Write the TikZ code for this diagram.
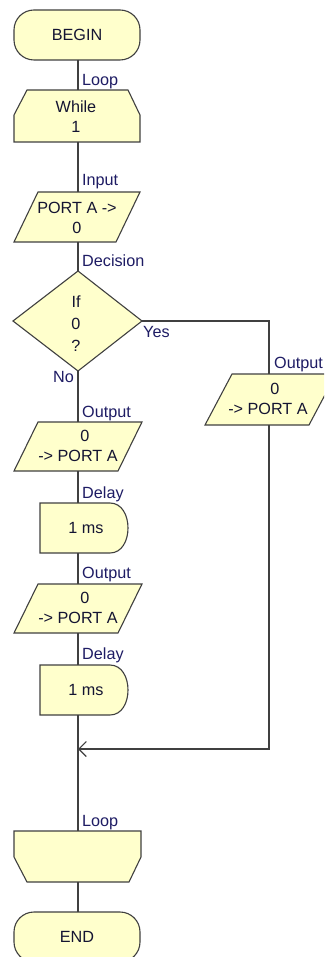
\documentclass[tikz,border=0pt]{standalone}
\usepackage{fontspec}
\setmainfont{Liberation Sans}
\usetikzlibrary{arrows.meta}
\definecolor{boxfill}{HTML}{FFFFCC}
\definecolor{edge}{HTML}{404040}
\definecolor{ink}{HTML}{141432}
\definecolor{tag}{HTML}{1E1C64}
\tikzset{
  shapebox/.style={draw=edge, fill=boxfill, line width=1.1pt, line join=miter},
  wire/.style={draw=edge, line width=1.1pt},
  txt/.style={text=ink, font=\fontsize{16.2}{20}\selectfont, align=center, inner sep=0pt},
  lbl/.style={text=tag, font=\fontsize{16.2}{20}\selectfont, inner sep=0pt},
  joinarrow/.style={-{Straight Barb[length=7.5pt,width=15pt,line width=1.1pt]}}
}
\begin{document}
\begin{tikzpicture}[x=1pt,y=-1pt]
\useasboundingbox (0,0) rectangle (324,957);
\clip (0,0) rectangle (324,957);
\fill[white] (0,0) rectangle (324,957);

% ---- shapes ----
% BEGIN terminal
\draw[shapebox, rounded corners=20pt] (14,10) rectangle (140,60);
\node[txt] (begin) at (77,35) {BEGIN};
\coordinate (begin-s) at (78,60);

% Loop start (While 1)
\draw[shapebox] (27,90) -- (128,90) -- (140,115) -- (140,142) -- (14,142) -- (14,115) -- cycle;
\node[txt] (while) at (76,117) {While\\1};
\coordinate (while-n) at (78,90);
\coordinate (while-s) at (78,142);

% Input
\draw[shapebox] (38,192) -- (140,192) -- (116,242) -- (14,242) -- cycle;
\node[txt] (input) at (77,218) {PORT A ->\\0};
\coordinate (input-n) at (78,192);
\coordinate (input-s) at (78,242);

% Decision
\draw[shapebox] (78,271) -- (142,321) -- (78,371) -- (13,321) -- cycle;
\node[txt] (decision) at (76,324) {If\\[2pt]0\\[2pt]?};
\coordinate (dec-n) at (78,271);
\coordinate (dec-e) at (142,321);
\coordinate (dec-s) at (78,371);

% Output on the Yes branch
\draw[shapebox] (232,374) -- (336,374) -- (309,425) -- (205,425) -- cycle;
\node[txt] (outyes) at (268,399) {\hspace*{14pt}0\\-> PORT A};
\coordinate (outyes-n) at (269,374);
\coordinate (outyes-s) at (269,425);

% First output on the No branch
\draw[shapebox] (38,422) -- (142,422) -- (118,471) -- (14,471) -- cycle;
\node[txt] (outa) at (78,446) {\hspace*{14pt}0\\-> PORT A};
\coordinate (outa-n) at (78,422);
\coordinate (outa-s) at (78,471);

% First delay
\draw[shapebox] (40,503) -- (110,503) .. controls (134,503) and (134,553) .. (110,553) -- (40,553) -- cycle;
\node[txt] (delaya) at (86,528) {1 ms};
\coordinate (delaya-n) at (78,503);
\coordinate (delaya-s) at (78,553);

% Second output
\draw[shapebox] (38,584) -- (142,584) -- (118,633) -- (14,633) -- cycle;
\node[txt] (outb) at (78,608) {\hspace*{14pt}0\\-> PORT A};
\coordinate (outb-n) at (78,584);
\coordinate (outb-s) at (78,633);

% Second delay
\draw[shapebox] (40,665) -- (110,665) .. controls (134,665) and (134,715) .. (110,715) -- (40,715) -- cycle;
\node[txt] (delayb) at (86,690) {1 ms};
\coordinate (delayb-n) at (78,665);
\coordinate (delayb-s) at (78,715);

% Branch join
\coordinate (join) at (78,749);

% Loop end
\draw[shapebox] (14,831) -- (141,831) -- (141,857) -- (129,882) -- (27,882) -- (14,857) -- cycle;
\coordinate (loopend-n) at (78,831);
\coordinate (loopend-s) at (78,882);

% END terminal
\draw[shapebox, rounded corners=20pt] (14,912) rectangle (140,962);
\node[txt] (end) at (77,937) {END};
\coordinate (end-n) at (78,912);

% ---- connectors ----
\draw[wire] (begin-s) -- (while-n);
\draw[wire] (while-s) -- (input-n);
\draw[wire] (input-s) -- (dec-n);
\draw[wire] (dec-e) -| (outyes-n);
\draw[wire] (dec-s) -- (outa-n);
\draw[wire] (outa-s) -- (delaya-n);
\draw[wire] (delaya-s) -- (outb-n);
\draw[wire] (outb-s) -- (delayb-n);
\draw[wire] (delayb-s) -- (join) -- (loopend-n);
\draw[wire, joinarrow] (outyes-s) |- (join);
\draw[wire] (loopend-s) -- (end-n);

% ---- connector labels ----
\node[lbl, anchor=base west] (l-loop1) at (82,86) {Loop};
\node[lbl, anchor=base west] (l-input) at (82,186) {Input};
\node[lbl, anchor=base west] (l-dec) at (82,267) {Decision};
\node[lbl, anchor=base west] (l-yes) at (143,337) {Yes};
\node[lbl, anchor=base east] (l-no) at (74,382) {No};
\node[lbl, anchor=base west] (l-outyes) at (274,368) {Output};
\node[lbl, anchor=base west] (l-outa) at (82,417) {Output};
\node[lbl, anchor=base west] (l-delaya) at (82,498) {Delay};
\node[lbl, anchor=base west] (l-outb) at (82,578) {Output};
\node[lbl, anchor=base west] (l-delayb) at (82,659) {Delay};
\node[lbl, anchor=base west] (l-loop2) at (82,826) {Loop};
\end{tikzpicture}
\end{document}
